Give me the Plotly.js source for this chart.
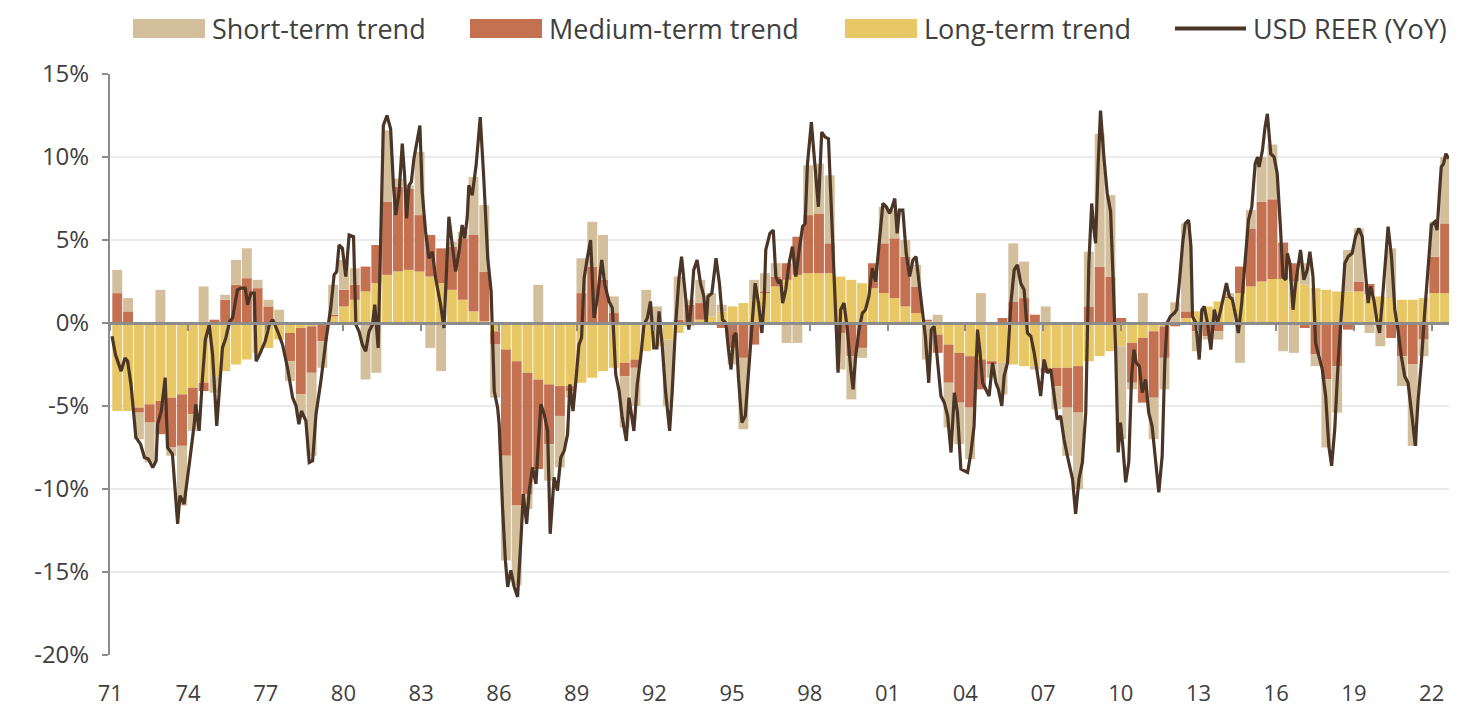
<!DOCTYPE html>
<html><head><meta charset="utf-8">
<script src="https://cdn.plot.ly/plotly-3.0.1.min.js"></script>
<style>html,body{margin:0;padding:0;background:#fff;}#chart{width:1469px;height:706px;}</style>
</head><body><div id="chart"></div>
<script>
// ---- data (decimal years, % YoY) ----
const barStartYear = 1971.27;      // centre of first 5-month period
const barStepYears = 5 / 12;       // one bar per 5-month period

const longTerm = [
-5.3,-5.3,-5.1,-4.9,-4.7,-4.5,-4.3,-3.9,-3.6,-3.2,
-2.9,-2.5,-2.2,-1.8,-1.5,-1.0,-0.6,-0.3,-0.2,0.05,
0.4,1.0,1.4,1.9,2.4,2.9,3.1,3.2,3.1,2.8,
2.4,2.0,1.4,0.7,0.1,-0.5,-1.6,-2.3,-3.0,-3.4,
-3.7,-3.8,-3.8,-3.6,-3.3,-2.9,-2.7,-2.4,-2.2,-1.7,
-1.4,-1.0,-0.6,-0.2,0.2,0.4,0.7,1.0,1.2,1.4,
1.8,2.2,2.6,2.9,3.0,3.0,3.0,2.8,2.6,2.4,
2.1,1.8,1.5,1.0,0.6,0.1,-0.7,-1.3,-1.8,-2.0,
-2.2,-2.3,-2.4,-2.5,-2.6,-2.6,-2.7,-2.7,-2.7,-2.6,
-2.3,-2.0,-1.7,-1.4,-1.2,-0.9,-0.5,-0.2,0.05,0.3,
0.7,1.0,1.3,1.5,1.8,2.2,2.5,2.65,2.65,2.5,
2.3,2.1,2.0,1.9,1.9,1.9,1.75,1.6,1.5,1.4,
1.4,1.5,1.8,1.8];

const mediumTerm = [
1.8,0.7,-0.3,-1.1,-2.0,-3.0,-3.1,-1.6,-0.5,0.2,
1.4,2.3,2.7,2.1,1.0,0.0,-1.7,-4.0,-2.8,-1.1,
0.1,1.0,0.9,1.5,2.3,4.4,5.1,4.9,3.4,2.5,
2.1,2.6,3.7,4.6,3.0,-0.8,-6.4,-8.7,-7.3,-5.4,
-3.6,-1.8,-0.3,1.8,3.4,2.6,0.6,-0.8,-0.5,0,
0,0,0.2,1.1,1.0,0,-0.3,-1.5,-2.1,-1.3,
0.1,0.6,1.0,2.3,3.5,3.6,1.8,-0.6,-2.0,-1.5,
1.5,3.0,3.6,3.0,1.6,0.1,-1.1,-2.3,-3.0,-3.1,
-1.8,-0.2,0.3,1.3,1.5,0.5,-0.3,-1.1,-2.4,-2.8,
1.0,3.4,2.8,0.3,-2.4,-3.9,-4.0,-1.9,-0.2,0.4,
-0.5,-0.8,-0.5,0.1,1.6,3.5,4.8,4.8,2.2,1.1,
-0.3,-1.9,-3.4,-2.6,-0.4,0.6,0.6,0,-0.9,-2.0,
-2.5,-1.0,2.2,4.2];

const shortTerm = [
1.4,0.8,-1.6,-2.4,2.0,-0.5,-3.6,-1.0,2.2,-1.0,
0.3,1.5,1.8,0.5,0.4,0.8,-1.2,-1.3,-5.0,-1.6,
1.8,1.8,1.0,-3.4,-3.0,4.3,0.5,0.2,3.8,-1.5,
-2.9,0.3,0.4,3.5,4.0,-3.2,-6.3,-4.8,-0.9,2.3,
-2.2,-3.1,-0.4,2.1,2.7,2.7,1.0,-3.1,-2.3,2.0,
1.0,-4.0,2.6,0.3,1.4,1.4,0.4,-1.0,-4.3,1.2,
1.1,0.8,-1.2,-1.2,3.0,3.0,4.1,-2.2,-2.6,-0.6,
0,2.2,1.7,1.0,1.3,-2.2,0.5,-2.7,-2.5,-3.1,
1.8,-0.8,-1.9,3.5,2.2,-0.2,1.0,-1.4,-2.9,-4.6,
3.3,8.0,4.9,-5.6,-0.4,1.8,-2.5,-1.9,1.2,5.3,
-1.2,-0.2,-0.5,0.2,-2.4,1.1,2.7,3.3,-1.7,-1.8,
1.3,-0.7,-4.1,-2.8,2.5,3.2,-0.6,-1.4,3.0,-1.8,
-4.9,-1.0,2.1,4.0];

const reerYears = [
1971.07,1971.20,1971.42,1971.57,1971.67,1971.80,1971.99,1972.17,1972.32,1972.47,
1972.64,1972.77,1972.83,1972.97,1973.12,1973.21,1973.40,1973.60,1973.69,1973.85,
1974.05,1974.24,1974.30,1974.43,1974.56,1974.67,1974.82,1974.95,1975.11,1975.20,
1975.33,1975.46,1975.61,1975.72,1975.91,1976.05,1976.21,1976.30,1976.43,1976.56,
1976.63,1976.76,1976.88,1976.98,1977.14,1977.27,1977.46,1977.65,1977.84,1978.04,
1978.17,1978.28,1978.38,1978.55,1978.68,1978.81,1978.94,1979.13,1979.32,1979.51,
1979.64,1979.74,1979.83,1979.96,1980.09,1980.22,1980.39,1980.48,1980.60,1980.73,
1980.86,1980.99,1981.12,1981.21,1981.34,1981.44,1981.54,1981.68,1981.82,1981.93,
1982.02,1982.15,1982.27,1982.36,1982.44,1982.53,1982.62,1982.72,1982.85,1982.95,
1983.04,1983.17,1983.30,1983.43,1983.56,1983.75,1983.88,1983.94,1984.07,1984.20,
1984.33,1984.46,1984.58,1984.68,1984.78,1984.84,1984.97,1985.12,1985.28,1985.41,
1985.57,1985.70,1985.82,1985.95,1986.01,1986.14,1986.25,1986.34,1986.46,1986.59,
1986.72,1986.85,1986.94,1987.07,1987.17,1987.30,1987.43,1987.53,1987.62,1987.75,
1987.88,1987.98,1988.13,1988.26,1988.39,1988.52,1988.65,1988.74,1988.86,1988.97,
1989.09,1989.19,1989.29,1989.41,1989.54,1989.67,1989.80,1989.97,1990.09,1990.25,
1990.38,1990.51,1990.64,1990.76,1990.92,1991.02,1991.15,1991.21,1991.34,1991.47,
1991.60,1991.73,1991.85,1991.98,1992.10,1992.18,1992.30,1992.43,1992.59,1992.69,
1992.82,1992.95,1993.05,1993.18,1993.33,1993.43,1993.52,1993.65,1993.78,1993.91,
1994.00,1994.07,1994.22,1994.38,1994.51,1994.63,1994.76,1994.86,1994.96,1995.06,
1995.15,1995.25,1995.38,1995.51,1995.66,1995.79,1995.89,1996.02,1996.15,1996.24,
1996.30,1996.46,1996.59,1996.69,1996.79,1996.88,1996.95,1997.07,1997.20,1997.33,
1997.46,1997.59,1997.72,1997.82,1997.91,1998.06,1998.20,1998.33,1998.46,1998.59,
1998.72,1998.85,1998.97,1999.09,1999.19,1999.32,1999.45,1999.58,1999.67,1999.77,
1999.90,2000.03,2000.15,2000.28,2000.41,2000.54,2000.67,2000.82,2000.95,2001.08,
2001.18,2001.28,2001.37,2001.46,2001.59,2001.72,2001.85,2001.98,2002.10,2002.23,
2002.36,2002.46,2002.59,2002.69,2002.80,2002.91,2003.06,2003.19,2003.32,2003.45,
2003.58,2003.70,2003.83,2003.96,2004.09,2004.22,2004.34,2004.47,2004.56,2004.67,
2004.79,2004.92,2005.05,2005.18,2005.28,2005.41,2005.50,2005.63,2005.76,2005.89,
2006.01,2006.14,2006.27,2006.40,2006.53,2006.66,2006.78,2006.91,2007.04,2007.17,
2007.30,2007.43,2007.55,2007.68,2007.81,2007.94,2008.07,2008.14,2008.26,2008.39,
2008.52,2008.65,2008.77,2008.88,2008.97,2009.03,2009.13,2009.22,2009.35,2009.48,
2009.61,2009.74,2009.80,2009.90,2009.99,2010.08,2010.19,2010.31,2010.42,2010.51,
2010.60,2010.72,2010.83,2010.96,2011.08,2011.21,2011.34,2011.47,2011.60,2011.70,
2011.79,2011.92,2012.07,2012.16,2012.26,2012.39,2012.49,2012.62,2012.71,2012.77,
2012.90,2013.03,2013.13,2013.22,2013.35,2013.48,2013.61,2013.74,2013.86,2013.99,
2014.08,2014.19,2014.31,2014.44,2014.54,2014.67,2014.80,2014.93,2015.06,2015.19,
2015.28,2015.34,2015.47,2015.57,2015.66,2015.79,2015.92,2016.04,2016.17,2016.26,
2016.37,2016.43,2016.53,2016.65,2016.75,2016.84,2016.94,2017.07,2017.20,2017.30,
2017.42,2017.52,2017.65,2017.78,2017.91,2018.03,2018.14,2018.26,2018.39,2018.52,
2018.65,2018.78,2018.93,2019.06,2019.19,2019.32,2019.45,2019.55,2019.64,2019.77,
2019.90,2019.99,2020.09,2020.22,2020.32,2020.45,2020.58,2020.70,2020.83,2020.96,
2021.09,2021.24,2021.37,2021.47,2021.60,2021.73,2021.86,2021.99,2022.12,2022.21,
2022.30,2022.37,2022.46,2022.55,2022.66];

const reerValues = [
-0.8,-1.9,-2.9,-2.1,-2.3,-3.7,-6.9,-7.3,-8.1,-8.2,
-8.7,-8.3,-6.1,-5.3,-3.3,-7.5,-7.9,-12.1,-10.4,-10.9,
-8.5,-6.1,-4.9,-6.5,-3.3,-1.0,-0.1,-1.9,-6.2,-4.1,
-1.5,-0.9,0.1,0.3,2.0,2.1,2.1,1.1,1.8,1.8,
-2.3,-1.9,-1.5,-1.1,-0.1,0.2,-0.5,-1.3,-2.7,-4.5,
-5.0,-6.1,-5.3,-5.9,-8.4,-8.3,-5.5,-3.5,-1.1,0.9,
2.9,3.1,4.7,4.5,2.8,5.3,5.2,-0.1,-0.5,-1.3,
-1.7,-0.5,-0.1,1.1,-1.5,5.9,11.9,12.5,11.7,8.3,
6.5,7.9,10.8,8.9,6.3,8.3,8.5,9.9,11.1,11.9,
7.9,5.5,3.9,4.3,2.7,1.1,-0.3,1.9,6.4,4.7,
3.1,4.3,5.9,5.1,6.4,8.3,7.7,9.5,12.4,8.9,
3.9,1.9,-4.1,-5.1,-6.1,-11.1,-14.3,-15.9,-14.9,-15.9,
-16.5,-13.1,-10.3,-12.1,-10.1,-8.7,-9.7,-7.1,-4.9,-5.5,
-6.5,-12.7,-9.3,-10.1,-8.1,-7.7,-6.7,-3.7,-5.3,-3.5,
-1.3,-0.9,2.7,3.9,5.0,0.3,1.5,3.8,2.3,1.3,
0.9,-3.1,-4.1,-5.7,-7.1,-4.5,-5.7,-6.5,-3.7,-2.1,
-0.1,0.3,1.3,-1.5,-1.5,0.7,-1.3,-4.1,-6.5,-4.1,
-0.1,2.7,4.0,1.9,-0.4,1.2,3.2,3.8,2.4,1.6,
0.0,1.6,1.8,3.9,2.4,0.2,0.0,-1.6,-2.8,-0.8,
-0.6,-3.4,-6.0,-5.6,-2.4,0.8,2.4,1.2,-0.6,1.4,
4.4,5.4,5.6,2.8,2.4,2.6,1.2,2.0,3.6,4.6,
2.8,4.4,5.8,6.0,9.6,12.1,9.6,7.0,11.5,11.2,
11.1,6.6,1.6,-3.0,0.8,1.2,-0.4,-2.8,-4.0,-2.0,
-0.4,0.6,0.8,1.6,3.3,2.5,4.6,7.2,7.0,6.6,
7.0,7.5,5.4,6.8,6.8,4.2,2.8,3.8,4.0,2.4,
0.8,-0.8,-3.6,-0.4,-0.2,-2.0,-4.4,-4.8,-5.6,-7.8,
-4.2,-5.4,-8.8,-8.9,-9.0,-7.8,-6.2,-0.4,-1.6,-3.6,
-4.0,-4.4,-2.4,-3.6,-4.0,-5.0,-3.2,-2.4,1.2,3.2,
3.5,2.4,2.0,-0.6,-0.8,-1.8,-3.0,-4.4,-2.2,-3.0,
-2.8,-4.2,-5.8,-5.6,-7.0,-8.0,-9.0,-9.4,-11.5,-9.4,
-8.4,-5.4,3.6,7.2,5.6,4.8,9.6,12.8,10.0,7.8,
6.7,1.6,-1.4,-7.8,-6.0,-7.4,-9.6,-8.4,-3.2,-1.6,
-2.4,-2.6,-4.2,-3.4,-5.4,-6.2,-8.0,-10.2,-8.0,-2.4,
0.0,0.4,0.6,0.8,2.4,4.8,6.0,6.2,4.6,0.4,
0.0,-2.2,0.8,1.0,0.0,-1.6,0.8,0.0,0.8,1.8,
2.4,1.6,1.4,0.4,-0.6,1.2,3.6,6.2,7.0,9.6,
10.0,9.4,10.4,11.8,12.6,10.2,10.0,9.0,5.6,2.8,
2.6,4.2,3.6,0.8,2.4,3.4,4.4,2.6,3.2,4.3,
2.8,-1.2,-2.0,-2.8,-4.4,-7.4,-8.6,-6.4,-2.4,0.6,
3.6,4.0,4.2,5.2,5.7,5.2,3.2,1.2,2.2,1.4,
0.0,-0.6,1.2,4.2,5.8,4.0,0.8,-0.4,-2.0,-3.2,
-3.6,-5.6,-7.4,-4.8,-2.4,0.6,3.6,5.9,6.1,5.6,
7.8,9.4,9.6,10.2,9.9];

const tickYears  = [1971,1974,1977,1980,1983,1986,1989,1992,1995,1998,2001,2004,2007,2010,2013,2016,2019,2022];
const tickLabels = ['71','74','77','80','83','86','89','92','95','98','01','04','07','10','13','16','19','22'];
const yTickValues = [-20,-15,-10,-5,0,5,10,15];
const yTickLabels = ['-20%','-15%','-10%','-5%','0%','5%','10%','15%'];
const seriesNames = ['Short-term trend','Medium-term trend','Long-term trend','USD REER (YoY)'];
const seriesColors = ['#d3bf9b','#c47152','#e8c767','#4b3526'];

// ---- build ----
const barX = longTerm.map((_, i) => barStartYear + i * barStepYears);
const FONT = 'Open Sans, sans-serif';
const TXT = '#404040';
const AXC = '#8c8c8c';
const xRange = [1970.99, 2022.67];

const traces = [
  {type:'bar', x:barX, y:longTerm, name:seriesNames[2], marker:{color:seriesColors[2]}, showlegend:false, hoverinfo:'skip'},
  {type:'bar', x:barX, y:mediumTerm, name:seriesNames[1], marker:{color:seriesColors[1]}, showlegend:false, hoverinfo:'skip'},
  {type:'bar', x:barX, y:shortTerm, name:seriesNames[0], marker:{color:seriesColors[0]}, showlegend:false, hoverinfo:'skip'},
  {type:'scatter', mode:'lines', x:reerYears, y:reerValues, name:seriesNames[3], line:{color:seriesColors[3], width:3.2}, showlegend:false},
  {type:'scatter', mode:'lines', x:[], y:[], xaxis:'x2', showlegend:false, hoverinfo:'skip'}
];

// custom legend (pixel helpers -> paper coords)
const ML = 110, MR = 20, MT = 74, MB = 51, W = 1469, H = 706;
const PW = W - ML - MR, PH = H - MT - MB;
const px = X => (X - ML) / PW;
const py = Y => (H - MB - Y) / PH;
const legendItems = [
  {kind:'rect', x0:133, x1:205, tx:210, name:seriesNames[0], color:seriesColors[0]},
  {kind:'rect', x0:470, x1:542, tx:547, name:seriesNames[1], color:seriesColors[1]},
  {kind:'rect', x0:845, x1:917, tx:922, name:seriesNames[2], color:seriesColors[2]},
  {kind:'line', x0:1175, x1:1246, tx:1251, name:seriesNames[3], color:seriesColors[3]}
];
const shapes = [], annotations = [];
legendItems.forEach(it => {
  if (it.kind === 'rect') {
    shapes.push({type:'rect', xref:'paper', yref:'paper', x0:px(it.x0), x1:px(it.x1), y0:py(38), y1:py(19), fillcolor:it.color, line:{width:0}});
  } else {
    shapes.push({type:'line', xref:'paper', yref:'paper', x0:px(it.x0), x1:px(it.x1), y0:py(28.5), y1:py(28.5), line:{color:it.color, width:4}});
  }
  annotations.push({xref:'paper', yref:'paper', x:px(it.tx), y:py(28.5), xanchor:'left', yanchor:'middle', text:it.name, showarrow:false, font:{family:FONT, size:27, color:TXT}});
});

const layout = {
  width:W, height:H,
  margin:{l:ML, r:MR, t:MT, b:MB},
  paper_bgcolor:'#fff', plot_bgcolor:'#fff',
  barmode:'relative', bargap:0.08,
  showlegend:false,
  font:{family:FONT, color:TXT},
  xaxis:{range:xRange, tickvals:tickYears, ticktext:tickLabels, showgrid:false, zeroline:false, showline:false, ticks:'',
         tickfont:{family:FONT, size:22, color:TXT}, ticklabelstandoff:23},
  xaxis2:{overlaying:'x', anchor:'free', position:20/35, range:xRange, tickvals:tickYears, showticklabels:false,
          showgrid:false, zeroline:false, showline:true, linecolor:AXC, linewidth:2.5,
          ticks:'outside', ticklen:6, tickwidth:2, tickcolor:AXC, layer:'above traces'},
  yaxis:{range:[-20,15], tickvals:yTickValues, ticktext:yTickLabels, showgrid:true, gridcolor:'#ebebeb', gridwidth:2,
         zeroline:false, showline:true, linecolor:AXC, linewidth:2, ticks:'outside', ticklen:6, tickwidth:2, tickcolor:AXC,
         tickfont:{family:FONT, size:24, color:TXT}, ticklabelstandoff:8},
  shapes:shapes, annotations:annotations
};

Plotly.newPlot('chart', traces, layout, {displayModeBar:false, staticPlot:true});
</script>
</body></html>
